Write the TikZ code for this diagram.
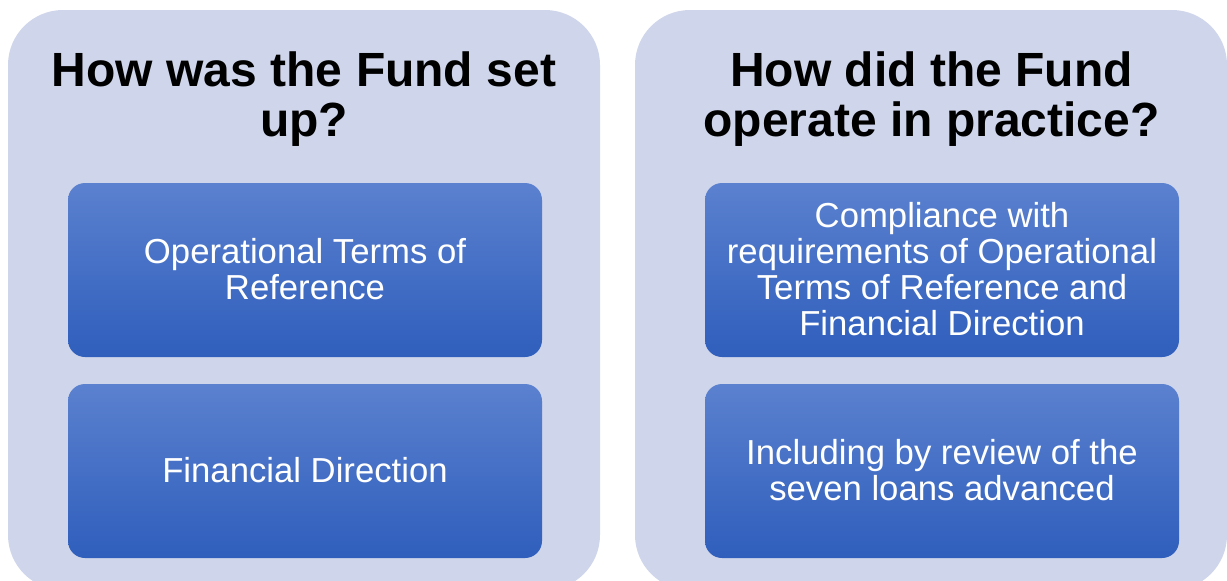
\documentclass[tikz,border=0pt]{standalone}
\usepackage{fontspec}
\setmainfont{Liberation Sans}
\definecolor{panel}{HTML}{CFD5EA}
\definecolor{boxtop}{HTML}{5B81CF}
\definecolor{boxbot}{HTML}{2F5EBC}
\newcommand\lnstrut{\rule[-0.21em]{0pt}{0.96em}}
\newcommand\itstrut{\rule[-0.15em]{0pt}{0.96em}}
\begin{document}
\begin{tikzpicture}[x=1pt,y=-1pt,
 panelbox/.style={rectangle, rounded corners=55pt, fill=panel, minimum width=592pt, minimum height=580pt, inner sep=0pt},
 itembox/.style={rectangle, rounded corners=17pt, top color=boxtop, bottom color=boxbot, minimum width=474pt, minimum height=174pt, inner sep=0pt, font=\fontsize{34.7}{36}\selectfont, text=white, align=center},
 titletext/.style={font=\fontsize{48}{50}\selectfont\bfseries, align=center, inner sep=0pt}]
\useasboundingbox (0,0) rectangle (1227,581);
\clip (0,0) rectangle (1227,581);
\node[panelbox] (pl) at (304,300) {};
\node[panelbox] (pr) at (931,300) {};
\node[titletext] (tl) at (304,99) {\lnstrut How was the Fund set\\\lnstrut up?};
\node[titletext] (tr) at (931.5,99) {\lnstrut How did the Fund\\\lnstrut operate in practice?};
\node[itembox] (l1) at (305,270) {\itstrut Operational Terms of\\\itstrut Reference};
\node[itembox] (l2) at (305,471) {\itstrut Financial Direction};
\node[itembox] (r1) at (942,270) {\itstrut Compliance with\\\itstrut requirements of Operational\\\itstrut Terms of Reference and\\\itstrut Financial Direction};
\node[itembox] (r2) at (942,471) {\itstrut Including by review of the\\\itstrut seven loans advanced};
\end{tikzpicture}
\end{document}
